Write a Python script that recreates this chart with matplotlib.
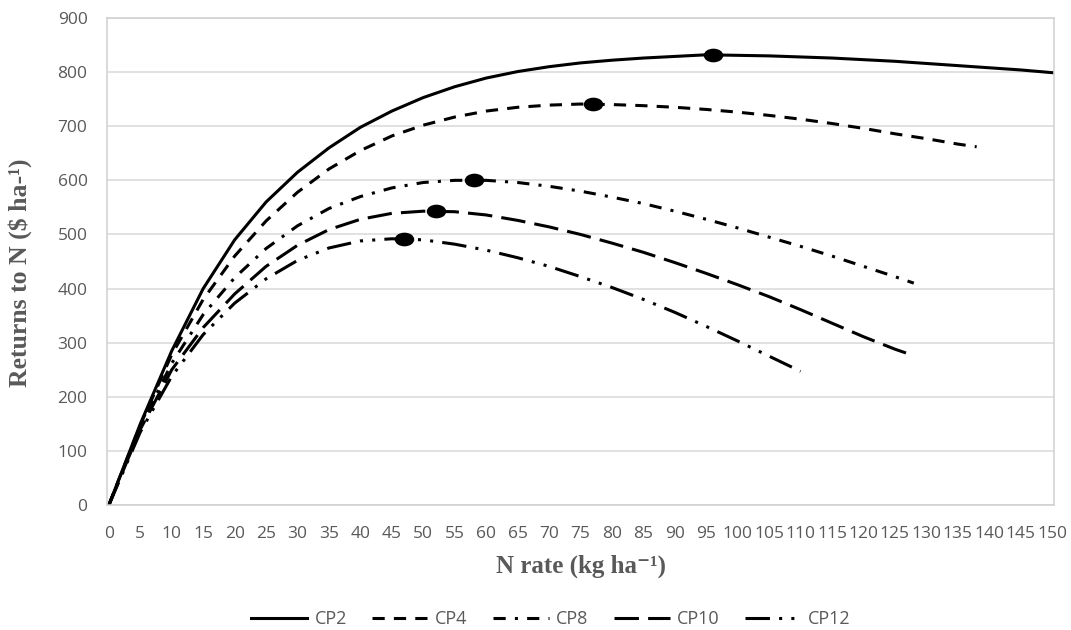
import matplotlib.pyplot as plt
from matplotlib.path import Path
from matplotlib.transforms import Affine2D

# N rate (kg/ha) and returns to N ($/ha)
cp2_x = [0, 5, 10, 15, 20, 25, 30, 35, 40, 45, 50, 55, 60, 65, 70, 75, 80, 85, 90, 95,
         100, 105, 110, 115, 120, 125, 130, 135, 140, 145, 150]
cp2_y = [0, 150, 285, 400, 490, 560, 615, 660, 698, 728, 753, 773, 789, 801, 810, 817, 822, 826, 829, 832,
         831, 830, 828, 826, 823, 820, 816, 812, 808, 804, 799]

cp4_x = [0, 5, 10, 15, 20, 25, 30, 35, 40, 45, 50, 55, 60, 65, 70, 75, 80, 85, 90, 95,
         100, 105, 110, 115, 120, 125, 130, 135, 138]
cp4_y = [0, 148, 278, 380, 460, 525, 578, 621, 655, 682, 702, 717, 728, 735, 739, 741, 740, 738, 735, 731,
         726, 720, 713, 705, 696, 686, 677, 667, 662]

cp8_x = [0, 5, 10, 15, 20, 25, 30, 35, 40, 45, 50, 55, 60, 65, 70, 75, 80, 85, 90, 95,
         100, 105, 110, 115, 120, 125, 128]
cp8_y = [0, 145, 262, 352, 420, 474, 516, 548, 570, 586, 596, 600, 600, 596, 589, 580, 569, 557, 543, 528,
         512, 495, 478, 460, 441, 422, 410]

cp10_x = [0, 5, 10, 15, 20, 25, 30, 35, 40, 45, 50, 55, 60, 65, 70, 75, 80, 85, 90, 95,
          100, 105, 110, 115, 120, 125, 128]
cp10_y = [0, 140, 250, 328, 390, 441, 480, 509, 528, 539, 543, 542, 536, 526, 514, 500, 484, 467, 448, 428,
          407, 385, 361, 336, 311, 288, 276]

cp12_x = [0, 5, 10, 15, 20, 25, 30, 35, 40, 45, 50, 55, 60, 65, 70, 75, 80, 85, 90, 95,
          100, 105, 110]
cp12_y = [0, 135, 238, 315, 373, 418, 452, 475, 488, 492, 490, 482, 471, 457, 441, 422, 402, 380, 356, 330,
          303, 275, 247]

# economic optimum N rate for each cropping system
opt_x = [96, 77, 58, 52, 47]
opt_y = [832, 741, 601, 544, 492]

labels = ['CP2', 'CP4', 'CP8', 'CP10', 'CP12']
xs = [cp2_x, cp4_x, cp8_x, cp10_x, cp12_x]
ys = [cp2_y, cp4_y, cp8_y, cp10_y, cp12_y]
styles = ['-', (0, (4, 3)), (0, (4, 3, 1, 3)), (0, (8, 3)), (0, (8, 3, 1, 3, 1, 3))]

x_ticks = list(range(0, 151, 5))
y_ticks = list(range(0, 901, 100))

gray = '#595959'
plt.rcParams['font.family'] = ['Open Sans', 'DejaVu Sans']

# flattened ellipse for the optimum markers
ellipse = Path.unit_circle().transformed(Affine2D().scale(1.0, 0.68))

fig = plt.figure(figsize=(10.71, 6.3), dpi=100)
ax = fig.add_axes([107 / 1071, 1 - 505 / 630, 947 / 1071, 487 / 630])

for x, y, ls, lab in zip(xs, ys, styles, labels):
    ax.plot(x, y, color='black', lw=2.2, linestyle=ls, label=lab)
ax.plot(opt_x, opt_y, linestyle='none', marker=ellipse, ms=13, color='black')

ax.set_xlim(-0.3, 150.3)
ax.set_ylim(0, 900)
ax.set_xticks(x_ticks)
ax.set_yticks(y_ticks)
ax.tick_params(axis='both', length=0, labelsize=12.5, labelcolor=gray)
ax.tick_params(axis='x', pad=15)
ax.tick_params(axis='y', pad=14)
ax.grid(axis='y', color='#d9d9d9', lw=1.1)
ax.set_axisbelow(True)
for s in ax.spines.values():
    s.set_color('#d0d0d0')
    s.set_linewidth(1.1)

ax.set_xlabel('N rate (kg ha⁻¹)', family=['Liberation Serif', 'DejaVu Serif'], fontweight='bold',
              fontsize=18, color=gray, va='center')
ax.xaxis.set_label_coords(0.5, -0.125)
ax.set_ylabel('Returns to N ($ ha-¹)', family=['Liberation Serif', 'DejaVu Serif'], fontweight='bold',
              fontsize=18.5, color=gray, va='center')
ax.yaxis.set_label_coords(-0.092, 0.476)

leg = fig.legend(loc='center', bbox_to_anchor=(551 / 1071, 1 - 619 / 630), ncol=5, frameon=False,
                 fontsize=13, handlelength=3.1, handletextpad=0.4, columnspacing=1.4)
for t in leg.get_texts():
    t.set_color(gray)

fig.savefig('out.png', dpi=100)
